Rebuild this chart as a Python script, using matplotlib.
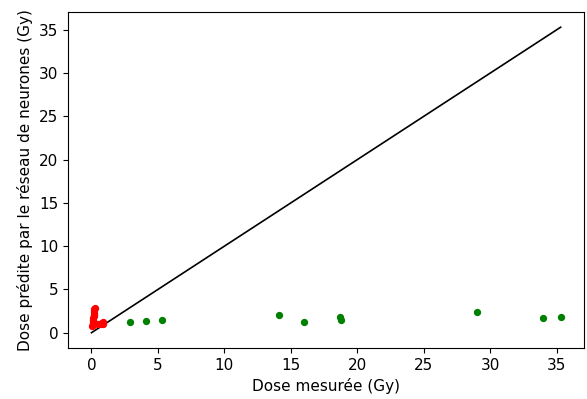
import matplotlib
matplotlib.use('Agg')
from matplotlib import pyplot as plt

plt.rcParams['font.size'] = 11

# points mesures / predits
green_x = [2.9, 4.1, 5.3, 14.1, 16.0, 18.7, 18.8, 29.0, 34.0, 35.3]
green_y = [1.2, 1.3, 1.5, 2.1, 1.25, 1.8, 1.45, 2.35, 1.75, 1.8]

red_x = [0.05, 0.1, 0.12, 0.15, 0.1, 0.15, 0.2, 0.18, 0.2, 0.22, 0.2, 0.25, 0.1,
         0.5, 0.6, 0.7, 0.8, 0.85, 0.9]
red_y = [0.8, 0.9, 1.1, 1.3, 1.5, 1.7, 1.9, 2.1, 2.3, 2.5, 2.7, 2.8, 1.0,
         0.95, 1.0, 1.05, 1.1, 1.2, 1.0]

line_x = [0, 35.3]
line_y = [0, 35.3]

fig = plt.figure(figsize=(5.87, 3.99), dpi=100)
ax = fig.add_axes([0.116, 0.128, 0.879, 0.842])
ax.plot(line_x, line_y, color='black', linewidth=1.2)
ax.scatter(green_x, green_y, color='green', s=18, zorder=3)
ax.scatter(red_x, red_y, color='red', s=18, zorder=3)
ax.set_xlim(-1.76, 37.06)
ax.set_ylim(-1.76, 37.06)
ax.set_xticks(range(0, 36, 5))
ax.set_yticks(range(0, 36, 5))
ax.set_xlabel('Dose mesurée (Gy)')
ax.set_ylabel('Dose prédite par le réseau de neurones (Gy)')
plt.savefig('out.png')
